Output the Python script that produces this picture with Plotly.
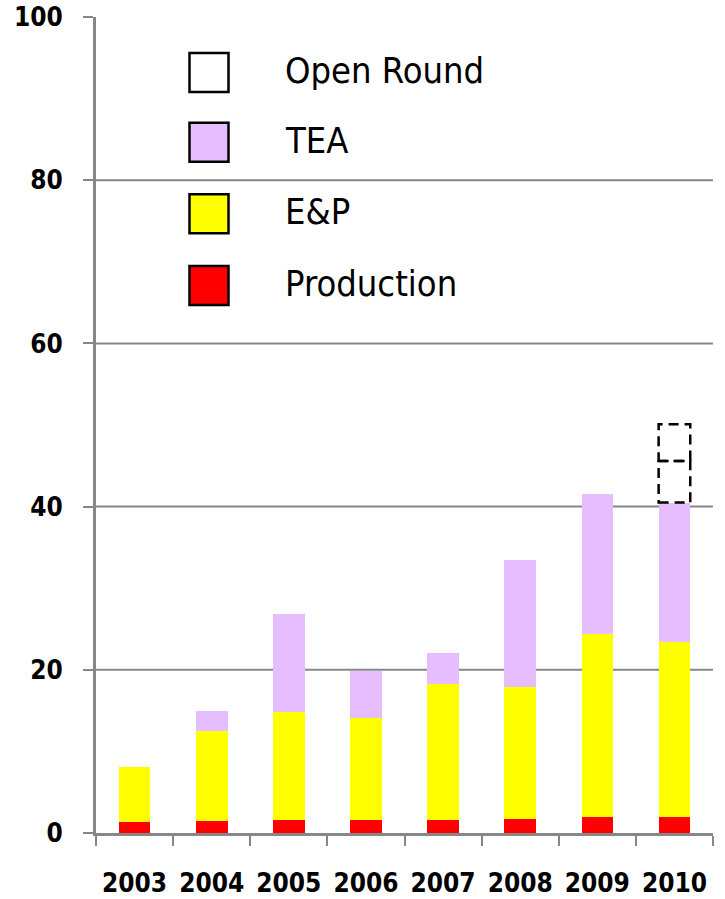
import plotly.graph_objects as go

# ---- data ----
years = ["2003", "2004", "2005", "2006", "2007", "2008", "2009", "2010"]
production = [1.35, 1.5, 1.55, 1.65, 1.6, 1.75, 1.95, 2.0]
e_and_p = [6.75, 10.95, 13.25, 12.45, 16.7, 16.1, 22.45, 21.4]
tea = [0.0, 2.45, 12.0, 5.8, 3.8, 15.55, 17.2, 17.1]
open_round_a = [0, 0, 0, 0, 0, 0, 0, 5.1]
open_round_b = [0, 0, 0, 0, 0, 0, 0, 4.5]
y_ticks = [0, 20, 40, 60, 80, 100]
legend_labels = ["Open Round", "TEA", "E&P", "Production"]

# ---- style ----
FONT = "DejaVu Sans Condensed, DejaVu Sans, sans-serif"
GRAY = "#878787"
C_PROD = "#FF0000"
C_EP = "#FFFF00"
C_TEA = "#E6BEFF"
C_OPEN = "#FFFFFF"
BAR_W = 0.41

W, H = 725, 899
ML = 96
MT = 17
MR = W - 713
MB = H - 833

fig = go.Figure()
for name, vals, col in [("Production", production, C_PROD),
                        ("E&P", e_and_p, C_EP),
                        ("TEA", tea, C_TEA)]:
    fig.add_trace(go.Bar(x=years, y=vals, name=name, width=BAR_W,
                         marker=dict(color=col, line=dict(width=0)),
                         showlegend=False))
for vals in (open_round_a, open_round_b):
    fig.add_trace(go.Bar(x=years, y=vals, name="Open Round", width=BAR_W,
                         marker=dict(color="rgba(0,0,0,0)", line=dict(width=0)),
                         showlegend=False))

shapes = []
# horizontal gridlines (none at the top value)
for t in y_ticks[1:-1]:
    shapes.append(dict(type="line", xref="paper", yref="y", x0=0, x1=1, y0=t, y1=t,
                       line=dict(color=GRAY, width=2), layer="below"))

# dashed outlines for Open Round segments (data coordinates)
for i in range(len(years)):
    base = production[i] + e_and_p[i] + tea[i]
    for seg in (open_round_a[i], open_round_b[i]):
        if seg > 0:
            shapes.append(dict(type="rect", xref="x", yref="y",
                               x0=i - BAR_W / 2, x1=i + BAR_W / 2,
                               y0=base, y1=base + seg,
                               line=dict(color="black", width=2.5, dash="10px,6px"),
                               fillcolor="rgba(0,0,0,0)", layer="above"))
            base += seg

# custom legend (paper coordinates, from reference pixel positions)
pw = W - ML - MR
ph = H - MT - MB
def px(xr):
    return (xr - ML) / pw
def py(yr):
    return (H - MB - yr) / ph

legend_colors = [C_OPEN, C_TEA, C_EP, C_PROD]
centers = [72.5, 142.3, 213.8, 285.4]
annotations = []
for lab, col, cy in zip(legend_labels, legend_colors, centers):
    shapes.append(dict(type="rect", xref="paper", yref="paper",
                       x0=px(189.5), x1=px(228.5), y0=py(cy + 19.5), y1=py(cy - 19.5),
                       line=dict(color="black", width=2.5), fillcolor=col))
    annotations.append(dict(xref="paper", yref="paper", x=px(283), y=py(cy - 2),
                            text=lab, showarrow=False, xanchor="left", yanchor="middle",
                            font=dict(family=FONT, size=36, color="black")))

fig.update_layout(
    width=W, height=H,
    margin=dict(l=ML, r=MR, t=MT, b=MB, autoexpand=False),
    barmode="stack",
    plot_bgcolor="white", paper_bgcolor="white",
    shapes=shapes, annotations=annotations,
    showlegend=False,
    xaxis=dict(type="category", range=[-0.5, 7.5], tickson="boundaries",
               ticks="outside", ticklen=10, tickwidth=2, tickcolor=GRAY,
               showline=True, linecolor=GRAY, linewidth=3, showgrid=False,
               tickfont=dict(family=FONT, size=26, color="black", weight="bold"),
               ticklabelstandoff=25),
    yaxis=dict(range=[0, 100], tickvals=y_ticks, showgrid=False,
               showline=True, linecolor=GRAY, linewidth=3,
               ticks="outside", ticklen=10, tickwidth=2, tickcolor=GRAY,
               zeroline=False, ticklabeloverflow="allow",
               tickfont=dict(family=FONT, size=26, color="black", weight="bold"),
               ticklabelstandoff=15),
)

fig.write_html("out.html",
               config={"displayModeBar": False},
               post_script="document.body.style.margin='0';document.body.style.overflow='hidden';")
